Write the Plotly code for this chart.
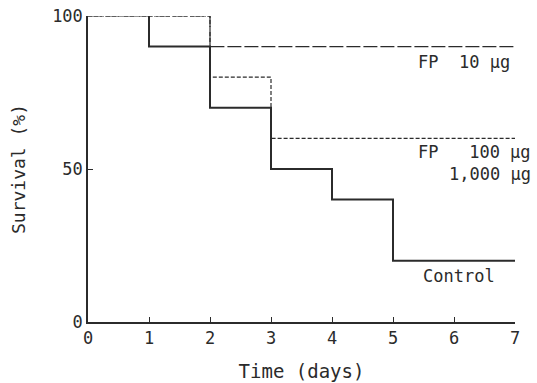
import plotly.graph_objects as go

# Survival data (step curves)
control_days = [1, 1, 2, 3, 4, 5, 7]
control_surv = [100, 90, 70, 50, 40, 20, 20]
fp10_days = [0, 2, 7]
fp10_surv = [100, 90, 90]
fp100_days = [0, 2, 3, 7]
fp100_surv = [100, 80, 60, 60]

x_ticks = [0, 1, 2, 3, 4, 5, 6, 7]
y_ticks = [0, 50, 100]

FONT = "DejaVu Sans Mono"
INK = "#2b2b2b"

fig = go.Figure()
fig.add_trace(go.Scatter(x=control_days, y=control_surv, mode="lines",
                         line=dict(shape="hv", color=INK, width=2),
                         cliponaxis=False, showlegend=False))
fig.add_trace(go.Scatter(x=fp100_days, y=fp100_surv, mode="lines",
                         line=dict(shape="hv", color=INK, width=1.2, dash="4px,2px"),
                         cliponaxis=False, showlegend=False))
fig.add_trace(go.Scatter(x=fp10_days, y=fp10_surv, mode="lines",
                         line=dict(shape="hv", color=INK, width=1.2, dash="14px,3px"),
                         cliponaxis=False, showlegend=False))

annots = [
    dict(x=0.993, y=85, text="FP  10 µg", xanchor="right"),
    dict(x=1.042, y=55.5, text="FP   100 µg", xanchor="right"),
    dict(x=1.042, y=48.5, text="1,000 µg", xanchor="right"),
    dict(x=0.868, y=15, text="Control", xanchor="center"),
]
for a in annots:
    fig.add_annotation(**a, xref="paper", yref="y", yanchor="middle", showarrow=False,
                       font=dict(family=FONT, size=17, color=INK))

fig.update_layout(
    width=537, height=383,
    margin=dict(l=88, r=22, t=16, b=61),
    paper_bgcolor="white", plot_bgcolor="white",
    font=dict(family=FONT, size=17, color=INK),
    xaxis=dict(range=[0, 7], tickvals=x_ticks, ticks="inside", ticklen=5,
               tickcolor=INK, showline=True, linecolor=INK, linewidth=1.5,
               showgrid=False, zeroline=False, automargin=False,
               title=dict(text="Time (days)", standoff=18, font=dict(size=19))),
    yaxis=dict(range=[0, 100], tickvals=y_ticks, ticks="inside", ticklen=5,
               tickcolor=INK, showline=True, linecolor=INK, linewidth=1.5,
               showgrid=False, zeroline=False, automargin=False,
               title=dict(text="Survival (%)", standoff=22, font=dict(size=18))),
)

fig.write_html("out.html", config={"displayModeBar": False},
               post_script="document.body.style.margin='0';document.body.style.padding='0';")
